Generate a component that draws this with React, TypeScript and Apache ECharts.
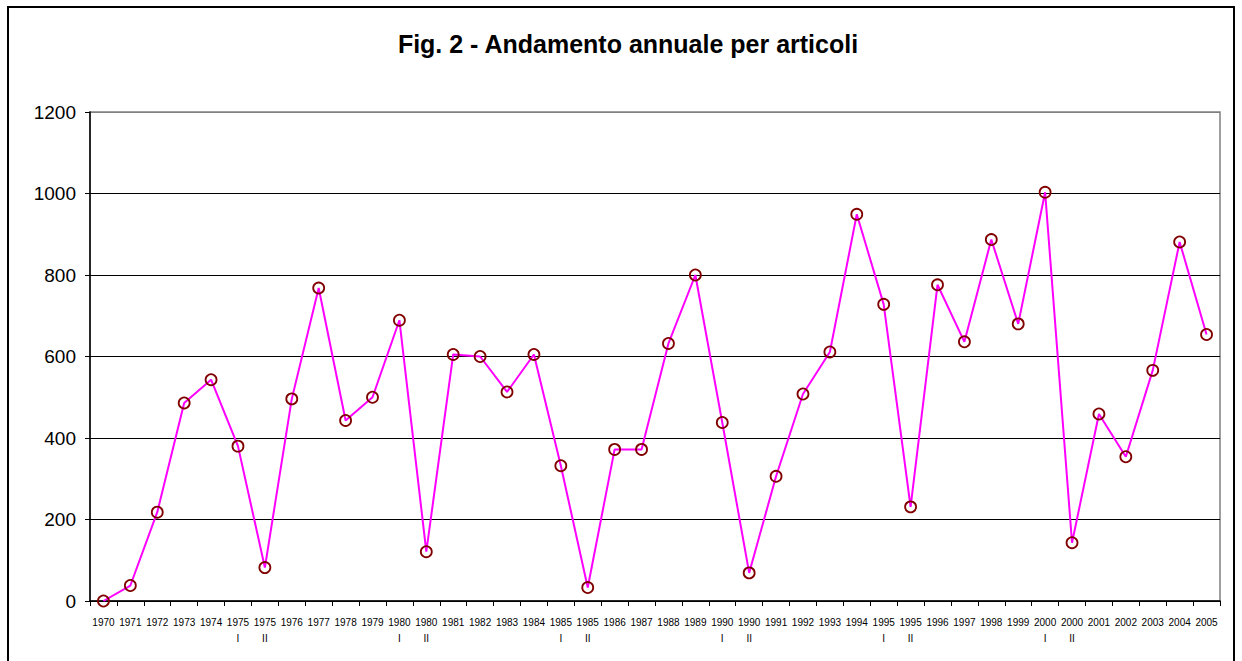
import React, { useEffect, useRef } from "react";
import * as echarts from "echarts";

const categories = [
  "1970", "1971", "1972", "1973", "1974", "1975\nI", "1975\nII", "1976", "1977", "1978",
  "1979", "1980\nI", "1980\nII", "1981", "1982", "1983", "1984", "1985\nI", "1985\nII", "1986",
  "1987", "1988", "1989", "1990\nI", "1990\nII", "1991", "1992", "1993", "1994", "1995\nI",
  "1995\nII", "1996", "1997", "1998", "1999", "2000\nI", "2000\nII", "2001", "2002", "2003",
  "2004", "2005",
];

const articoli = [
  0, 38, 218, 486, 543, 380, 82, 496, 768, 443,
  500, 689, 121, 605, 600, 513, 605, 332, 33, 372,
  372, 632, 800, 438, 69, 306, 508, 611, 949, 728,
  231, 776, 636, 887, 680, 1003, 143, 459, 354, 566,
  881, 654,
];

const yTicks = { min: 0, max: 1200, interval: 200 };
const titleText = "Fig. 2 - Andamento annuale per articoli";

export default function App() {
  const ref = useRef<HTMLDivElement>(null);
  useEffect(() => {
    if (!ref.current) return;
    const chart = echarts.init(ref.current, null, { renderer: "svg" });
    const font = "Liberation Sans, Arial, sans-serif";
    chart.setOption({
      animation: false,
      backgroundColor: "#ffffff",
      textStyle: { fontFamily: font },
      title: {
        text: titleText,
        left: 623,
        textAlign: "center",
        top: 26,
        textStyle: { fontSize: 25, fontWeight: "bold", color: "#000", fontFamily: font },
      },
      graphic: [
        {
          type: "rect",
          shape: { x: 8, y: 7, width: 1226, height: 680 },
          style: { fill: "none", stroke: "#000", lineWidth: 2 },
          silent: true,
        },
      ],
      grid: {
        left: 90,
        top: 112,
        right: 22,
        bottom: 60,
        show: true,
        borderColor: "#808080",
        borderWidth: 1.5,
        backgroundColor: "transparent",
      },
      xAxis: {
        type: "category",
        data: categories,
        boundaryGap: true,
        axisLine: { show: true, lineStyle: { color: "#000", width: 1.5 } },
        axisTick: { show: true, length: 5, lineStyle: { color: "#000" }, alignWithLabel: false },
        axisLabel: {
          interval: 0,
          fontSize: 10,
          color: "#000",
          margin: 13,
          lineHeight: 16,
          fontFamily: font,
        },
      },
      yAxis: {
        type: "value",
        min: yTicks.min,
        max: yTicks.max,
        interval: yTicks.interval,
        axisLine: { show: true, lineStyle: { color: "#000", width: 1.5 } },
        axisTick: { show: true, length: 5, lineStyle: { color: "#000" } },
        axisLabel: {
          fontSize: 19,
          color: "#000",
          margin: 14,
          fontFamily: font,
          formatter: (v: number) => String(v),
        },
        splitLine: {
          show: true,
          lineStyle: { color: ["#000", "#000", "#000", "#000", "#000", "#000", "#808080"], width: 1 },
        },
      },
      series: [
        {
          type: "line",
          data: articoli,
          lineStyle: { color: "#ff00ff", width: 2 },
          symbol: "circle",
          symbolSize: 11,
          showAllSymbol: true,
          itemStyle: { color: "rgba(255,255,255,0)", borderColor: "#800000", borderWidth: 1.8 },
          emphasis: { disabled: true },
        },
      ],
    });
    return () => chart.dispose();
  }, []);
  return (
    <div
      ref={ref}
      style={{ position: "absolute", left: 0, top: 0, width: 1242, height: 661 }}
    />
  );
}
